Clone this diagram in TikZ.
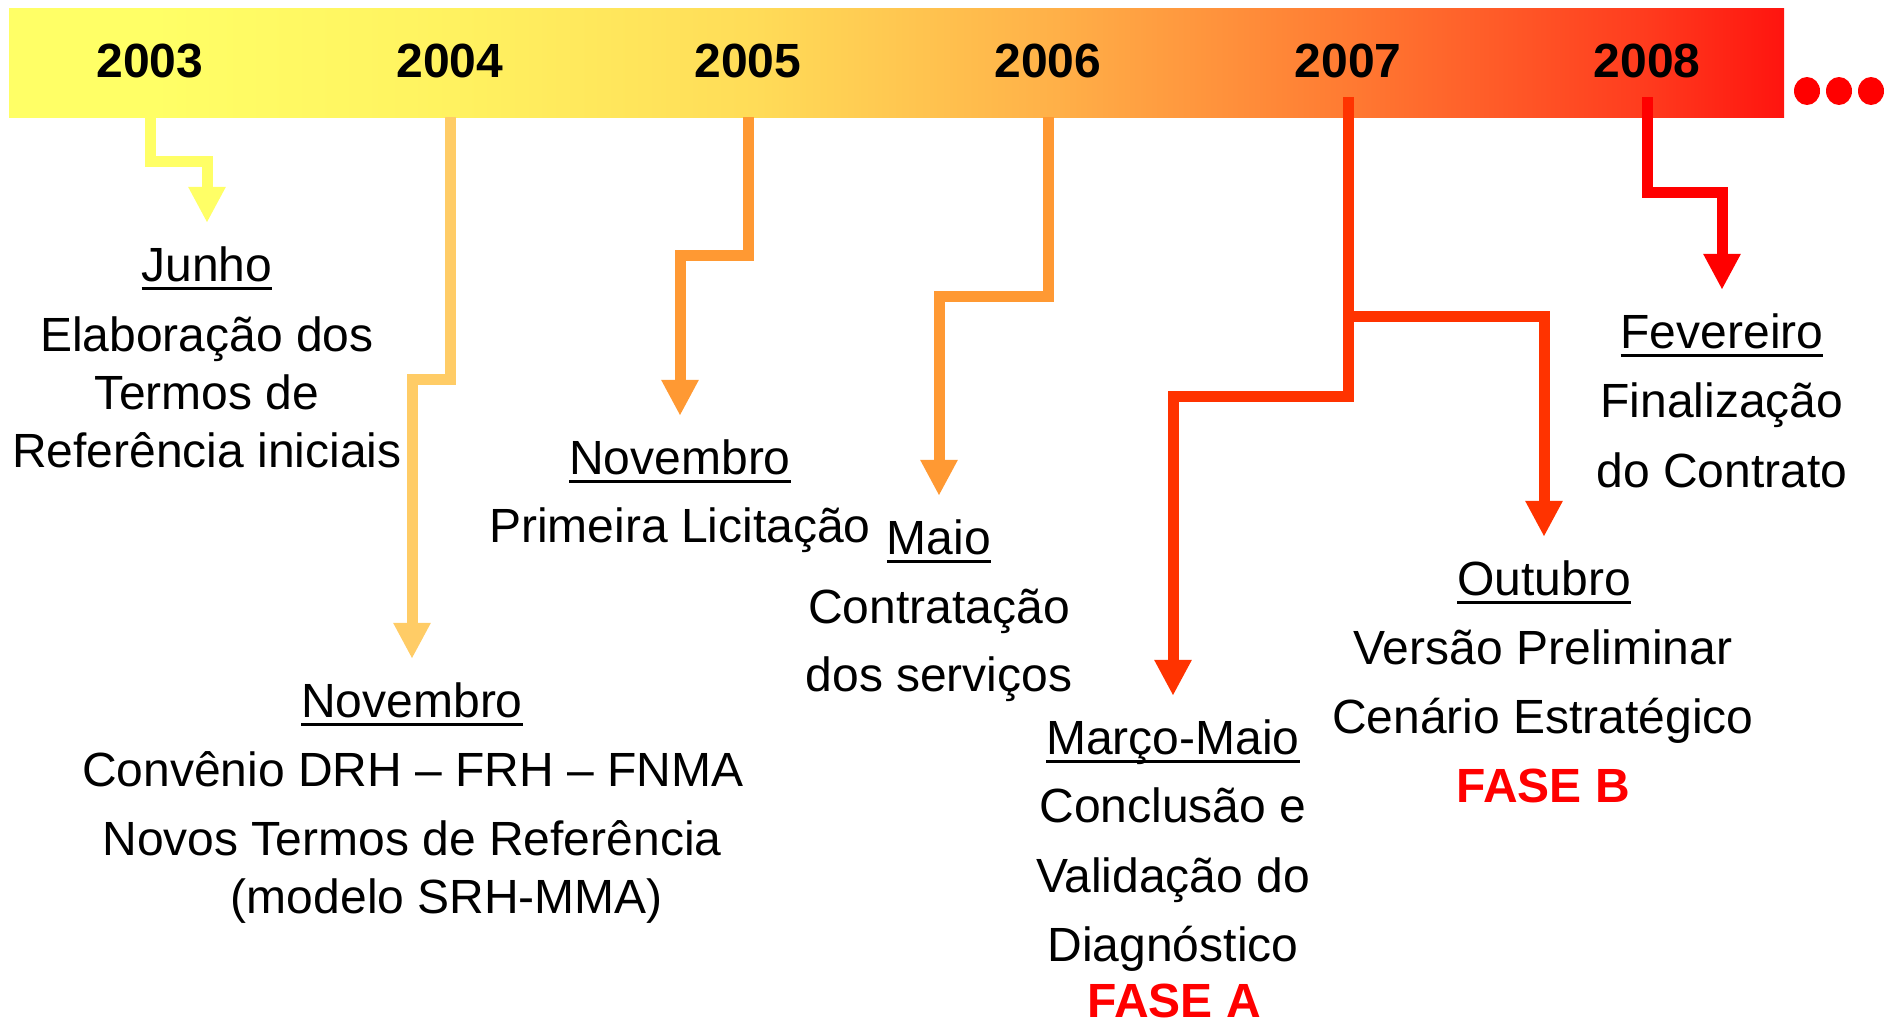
\documentclass[tikz,border=0pt]{standalone}
\usepackage{fontspec}
\setmainfont{Liberation Sans}
\usepackage{tikz}
\usetikzlibrary{arrows.meta}

\definecolor{c03}{RGB}{255,255,102}
\definecolor{c04}{RGB}{255,204,102}
\definecolor{c05}{RGB}{255,153,51}
\definecolor{c06}{RGB}{255,153,51}
\definecolor{c07}{RGB}{255,51,0}
\definecolor{c08}{RGB}{255,0,0}
\definecolor{fasered}{RGB}{255,0,0}
\definecolor{b0}{RGB}{255,255,102}
\definecolor{b1}{RGB}{255,242,96}
\definecolor{b2}{RGB}{255,220,88}
\definecolor{b3}{RGB}{255,176,72}
\definecolor{b4}{RGB}{255,122,50}
\definecolor{b5}{RGB}{255,60,30}
\definecolor{b6}{RGB}{255,20,15}
\pgfdeclarehorizontalshading{barshade}{100bp}{color(0bp)=(b0); color(25bp)=(b0); color(29bp)=(b0); color(37.5bp)=(b1); color(46bp)=(b2); color(54.5bp)=(b3); color(62.75bp)=(b4); color(71bp)=(b5); color(75bp)=(b6); color(100bp)=(b6)}

\newcommand\mesul[1]{\setbox0\hbox{#1}\rlap{\rule[-9pt]{\wd0}{3pt}}\box0}

\tikzset{
	lk/.style={line width=11pt, -{Triangle[length=36pt,width=35pt]}},
	ano/.style={font=\fontsize{48}{58}\selectfont\bfseries, inner sep=0pt, text height=34pt, text depth=0pt},
	txt/.style={font=\fontsize{48}{58}\selectfont, inner sep=0pt, text height=34pt, text depth=0pt},
	faselbl/.style={txt, font=\fontsize{48}{58}\selectfont\bfseries, text=fasered},
}

\begin{document}
\begin{tikzpicture}[x=1pt,y=-1pt]
		\useasboundingbox (0,0) rectangle (1885,1031);
		\node[shade, shading=barshade, minimum width=1775pt, minimum height=109pt, inner sep=0pt] (bar) at (896.5,62.5) {};
		\node[ano] (y03) at (150,60) {2003};
		\node[ano] (y04) at (450,60) {2004};
		\node[ano] (y05) at (748,60) {2005};
		\node[ano] (y06) at (1048,60) {2006};
		\node[ano] (y07) at (1348,60) {2007};
		\node[ano] (y08) at (1647,60) {2008};
		\fill[c08] (1807,91) ellipse (13pt and 14pt);
		\fill[c08] (1839,91) ellipse (13pt and 14pt);
		\fill[c08] (1871,91) ellipse (13pt and 14pt);
		
		\node[txt] (jun) at (207,264) {\mesul{Junho}};
		\node[txt] (jun1) at (207,334) {Elaboração dos};
		\node[txt] (jun2) at (207,392) {Termos de};
		\node[txt] (jun3) at (207,450) {Referência iniciais};
		
		\node[txt] (nov4) at (412,700) {\mesul{Novembro}};
		\node[txt] (nov4a) at (413,769) {Convênio DRH – FRH – FNMA};
		\node[txt] (nov4b) at (412,838) {Novos Termos de Referência};
		\node[txt] (nov4c) at (447,896) {(modelo SRH-MMA)};
		
		\node[txt] (nov5) at (680,457) {\mesul{Novembro}};
		\node[txt] (nov5a) at (680,525) {Primeira Licitação};
		
		\node[txt] (mai) at (939,537) {\mesul{Maio}};
		\node[txt] (mai1) at (939,606) {Contratação};
		\node[txt] (mai2) at (939,674) {dos serviços};
		
		\node[txt] (mm) at (1173,737) {\mesul{Março-Maio}};
		\node[txt] (mm1) at (1173,805) {Conclusão e};
		\node[txt] (mm2) at (1173,875) {Validação do};
		\node[txt] (mm3) at (1173,944) {Diagnóstico};
		\node[faselbl] (faseA) at (1174,1000) {FASE A};
		
		\node[txt] (out) at (1544,578) {\mesul{Outubro}};
		\node[txt] (out1) at (1543,647) {Versão Preliminar};
		\node[txt] (out2) at (1543,716) {Cenário Estratégico};
		\node[faselbl] (faseB) at (1543,785) {FASE B};
		
		\node[txt] (fev) at (1722,331) {\mesul{Fevereiro}};
		\node[txt] (fev1) at (1722,400) {Finalização};
		\node[txt] (fev2) at (1722,470) {do Contrato};
		
		\draw[lk,c03] (y03 |- bar.south) -- ++(0,44) -| ([yshift=24pt]jun.north);
		\draw[lk,c04] (y04 |- bar.south) -- ++(0,262) -| ([yshift=24pt]nov4.north);
		\draw[lk,c05] (y05 |- bar.south) -- ++(0,138) -| ([yshift=24pt]nov5.north);
		\draw[lk,c06] (y06 |- bar.south) -- ++(0,179) -| ([yshift=24pt]mai.north);
		\draw[lk,c07] (y07) ++(0,37) -- ++(0,219) coordinate (br) -- ++(0,80) -| ([yshift=24pt]mm.north);
		\draw[lk,c07] (br) -| ([yshift=24pt]out.north);
		\draw[lk,c08] (y08) ++(0,37) -- ++(0,95) -| ([yshift=24pt]fev.north);
\end{tikzpicture}
\end{document}
